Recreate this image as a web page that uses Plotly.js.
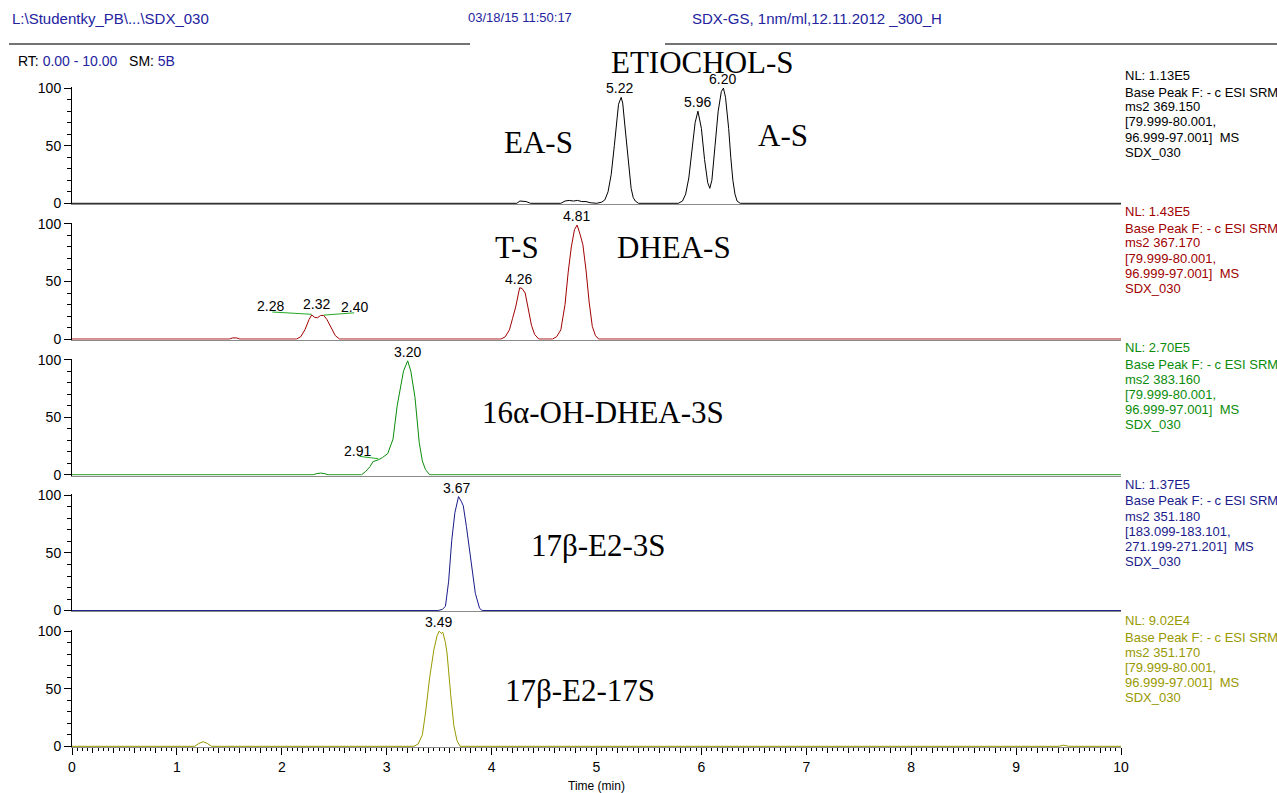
<!DOCTYPE html>
<html><head><meta charset="utf-8">
<script src="https://cdn.plot.ly/plotly-3.0.1.min.js"></script>
<style>html,body{margin:0;padding:0;background:#fff}#chart{width:1277px;height:793px}</style>
</head><body><div id="chart"></div>
<script>
// ---------- data (time in min, relative abundance in %) ----------
const timeEtiochol = [0, 4.24, 4.27, 4.30, 4.33, 4.37, 4.66, 4.70, 4.74, 4.78, 4.82, 4.86, 4.90, 4.94, 5.00, 5.05, 5.08, 5.11, 5.14, 5.17, 5.19, 5.21, 5.235, 5.25, 5.27, 5.29, 5.31, 5.33, 5.35, 5.37, 5.40, 5.78, 5.82, 5.85, 5.88, 5.91, 5.94, 5.967, 6.00, 6.03, 6.06, 6.08, 6.10, 6.13, 6.16, 6.19, 6.21, 6.23, 6.26, 6.28, 6.30, 6.32, 6.34, 6.37, 10];
const intEtiochol  = [0, 0, 2, 2, 1.5, 0, 0, 2, 2.5, 2, 2.5, 1.5, 1.5, 0.5, 0, 1, 3, 10, 25, 50, 70, 86, 92, 87, 68, 48, 28, 13, 5, 2, 0, 0, 2, 8, 22, 45, 70, 80, 65, 38, 18, 13, 20, 50, 80, 97, 100, 92, 65, 40, 20, 8, 2, 0, 0];

const timeDhea = [0, 1.50, 1.53, 1.57, 1.60, 2.14, 2.18, 2.22, 2.26, 2.285, 2.31, 2.34, 2.37, 2.40, 2.43, 2.47, 2.51, 2.55, 4.09, 4.13, 4.17, 4.20, 4.23, 4.267, 4.29, 4.32, 4.35, 4.38, 4.41, 4.45, 4.58, 4.62, 4.66, 4.70, 4.73, 4.76, 4.79, 4.815, 4.84, 4.87, 4.90, 4.93, 4.96, 4.99, 5.02, 10];
const intDhea  = [0, 0, 1, 1, 0, 0, 2, 8, 17, 21, 19, 18.5, 20.5, 20.5, 17, 10, 3, 0, 0, 2, 8, 18, 28, 44.5, 44, 40, 26, 12, 4, 0, 0, 2, 8, 30, 58, 80, 95, 99, 92, 82, 60, 32, 11, 3, 0, 0];

const timeOhDhea = [0, 2.30, 2.33, 2.37, 2.41, 2.44, 2.76, 2.80, 2.84, 2.87, 2.92, 2.96, 3.01, 3.06, 3.10, 3.13, 3.16, 3.20, 3.23, 3.27, 3.29, 3.31, 3.34, 3.37, 3.41, 10];
const intOhDhea  = [0, 0, 1, 1.5, 1, 0, 0, 3, 7, 11.5, 13, 15, 18.5, 31, 60, 76, 90, 99, 90, 67, 48, 28, 12, 4.5, 0, 0];

const timeE2_3S = [0, 3.49, 3.53, 3.56, 3.59, 3.62, 3.65, 3.685, 3.71, 3.73, 3.76, 3.80, 3.845, 3.885, 3.91, 10];
const intE2_3S  = [0, 0, 1, 3.7, 25, 61, 85, 99, 95, 91, 73, 47, 15, 2, 0, 0];

const timeE2_17S = [0, 1.17, 1.21, 1.25, 1.29, 1.33, 3.26, 3.30, 3.34, 3.37, 3.41, 3.45, 3.48, 3.50, 3.52, 3.535, 3.56, 3.575, 3.61, 3.64, 3.67, 3.70, 9.41, 9.45, 9.50, 10];
const intE2_17S  = [0, 0, 2.5, 4, 2.5, 0, 0, 2, 10, 29, 60, 84, 96, 100, 98, 99, 90, 81, 45, 18, 5, 0, 0, 1, 0, 0];

// peak labels (retention time, apex height)
const peakTimesEtiochol = [5.22, 5.96, 6.20];  const peakHeightsEtiochol = [92, 80, 100];
const peakTimesDhea     = [4.26, 4.81];        const peakHeightsDhea     = [44.5, 99];
const peakTimesOhDhea   = [3.20];              const peakHeightsOhDhea   = [99];
const peakTimesE2_3S    = [3.67];              const peakHeightsE2_3S    = [99];
const peakTimesE2_17S   = [3.49];              const peakHeightsE2_17S   = [100];

// side-labelled small peaks with leader lines
const clusterLabels = ['2.28', '2.32', '2.40'];
const shoulderLabel = ['2.91'];

// right-hand info blocks
const infoEtiochol = ['NL: 1.13E5', 'Base Peak F: - c ESI SRM', 'ms2 369.150', '[79.999-80.001,', '96.999-97.001]&nbsp; MS', 'SDX_030'];
const infoDhea     = ['NL: 1.43E5', 'Base Peak F: - c ESI SRM', 'ms2 367.170', '[79.999-80.001,', '96.999-97.001]&nbsp; MS', 'SDX_030'];
const infoOhDhea   = ['NL: 2.70E5', 'Base Peak F: - c ESI SRM', 'ms2 383.160', '[79.999-80.001,', '96.999-97.001]&nbsp; MS', 'SDX_030'];
const infoE2_3S    = ['NL: 1.37E5', 'Base Peak F: - c ESI SRM', 'ms2 351.180', '[183.099-183.101,', '271.199-271.201]&nbsp; MS', 'SDX_030'];
const infoE2_17S   = ['NL: 9.02E4', 'Base Peak F: - c ESI SRM', 'ms2 351.170', '[79.999-80.001,', '96.999-97.001]&nbsp; MS', 'SDX_030'];

const yTickVals = [0, 50, 100];
const yTickText = ['0', '50', '100'];
const xTickVals = [0, 1, 2, 3, 4, 5, 6, 7, 8, 9, 10];
const xTickText = ['0', '1', '2', '3', '4', '5', '6', '7', '8', '9', '10'];
const xMidTickVals = [0.2,0.4,0.6,0.8,1.2,1.4,1.6,1.8,2.2,2.4,2.6,2.8,3.2,3.4,3.6,3.8,4.2,4.4,4.6,4.8,5.2,5.4,5.6,5.8,6.2,6.4,6.6,6.8,7.2,7.4,7.6,7.8,8.2,8.4,8.6,8.8,9.2,9.4,9.6,9.8];

// ---------- layout ----------
const W = 1277, H = 793, ML = 72, MR = 156, MT = 87, MB = 46;
const plotW = W - ML - MR, plotH = H - MT - MB;
const px = x => (x - ML) / plotW;
const py = y => (H - MB - y) / plotH;

const FONT = 'Liberation Sans, Arial, sans-serif';
const SERIF = 'Liberation Serif, Times New Roman, serif';

const panels = [
  {t: timeEtiochol, v: intEtiochol, color: '#000000', pt: peakTimesEtiochol, ph: peakHeightsEtiochol, info: infoEtiochol, nl: 75},
  {t: timeDhea, v: intDhea, color: '#A00000', pt: peakTimesDhea, ph: peakHeightsDhea, info: infoDhea, nl: 211},
  {t: timeOhDhea, v: intOhDhea, color: '#0A8C0A', pt: peakTimesOhDhea, ph: peakHeightsOhDhea, info: infoOhDhea, nl: 347},
  {t: timeE2_3S, v: intE2_3S, color: '#1A1A8C', pt: peakTimesE2_3S, ph: peakHeightsE2_3S, info: infoE2_3S, nl: 484},
  {t: timeE2_17S, v: intE2_17S, color: '#999900', pt: peakTimesE2_17S, ph: peakHeightsE2_17S, info: infoE2_17S, nl: 620}
];

const layout = {
  width: W, height: H,
  margin: {l: ML, r: MR, t: MT, b: MB, pad: 0},
  paper_bgcolor: '#fff', plot_bgcolor: 'rgba(0,0,0,0)',
  showlegend: false,
  font: {family: FONT, size: 13, color: '#000'},
  annotations: [], shapes: []
};
const traces = [];

panels.forEach((p, i) => {
  const n = 5 - i;
  const xn = n === 1 ? 'x' : 'x' + n;
  const yn = n === 1 ? 'y' : 'y' + n;
  const xk = n === 1 ? 'xaxis' : 'xaxis' + n;
  const yk = n === 1 ? 'yaxis' : 'yaxis' + n;
  const bottom = 204 + 135.75 * i;
  const top = bottom - 117;
  layout[xk] = {
    range: [0, 10], anchor: yn, showline: true, linecolor: '#8a8a8a', linewidth: 1,
    showgrid: false, zeroline: false, fixedrange: true,
    ticks: n === 1 ? 'outside' : '', showticklabels: n === 1
  };
  layout[yk] = {
    domain: [py(bottom), py(top)], range: [-0.6, 101], anchor: xn,
    showline: true, linecolor: '#000', linewidth: 1, showgrid: false, zeroline: false, fixedrange: true,
    ticks: 'outside', tickvals: yTickVals, ticktext: yTickText, ticklen: 7, tickwidth: 1, tickcolor: '#000',
    minor: {ticks: 'outside', dtick: 10, tick0: 0, ticklen: 4, tickwidth: 1, tickcolor: '#000'},
    tickfont: {family: FONT, size: 14, color: '#000'}
  };
  traces.push({
    x: p.t, y: p.v, xaxis: xn, yaxis: yn, type: 'scatter', mode: 'lines',
    line: {color: p.color, width: 1}, hoverinfo: 'skip', cliponaxis: false
  });
  // peak labels
  p.pt.forEach((t, j) => {
    layout.annotations.push({
      x: t, y: p.ph[j], xref: xn, yref: yn, text: t.toFixed(2), showarrow: false,
      yanchor: 'bottom', xanchor: 'center', yshift: -1,
      font: {family: FONT, size: 14, color: '#000'}
    });
  });
  // info block
  p.info.forEach((line, k) => {
    const yy = k === 0 ? p.nl : p.nl + 17 + 15 * (k - 1);
    layout.annotations.push({
      x: px(1123), y: py(yy), xref: 'paper', yref: 'paper', text: line, showarrow: false,
      xanchor: 'left', yanchor: 'middle', font: {family: FONT, size: 13, color: p.color}
    });
  });
});

// bottom axis details
Object.assign(layout.xaxis, {
  tickvals: xTickVals, ticktext: xTickText, ticklen: 7, tickwidth: 1, tickcolor: '#000',
  minor: {ticks: 'outside', dtick: 0.05, tick0: 0, ticklen: 3, tickwidth: 1, tickcolor: '#000'},
  tickfont: {family: FONT, size: 14, color: '#000'},
  title: {text: 'Time (min)', font: {family: FONT, size: 12, color: '#000'}, standoff: 7}
});
layout.xaxis6 = {
  overlaying: 'x', anchor: 'y', range: [0, 10], side: 'bottom', showline: false, showgrid: false,
  zeroline: false, ticks: 'outside', tickvals: xMidTickVals, ticklen: 5, tickwidth: 1, tickcolor: '#000',
  showticklabels: false, fixedrange: true
};
traces.push({x: [0], y: [0], xaxis: 'x6', yaxis: 'y', mode: 'markers', marker: {opacity: 0}, hoverinfo: 'skip'});

// labels for shoulder / cluster peaks with green leader lines
const green = '#22AA22';
const lblFont = {family: FONT, size: 14, color: '#000'};
layout.annotations.push(
  {x: 1.89, y: 29, xref: 'x4', yref: 'y4', text: clusterLabels[0], showarrow: false, font: lblFont},
  {x: 2.33, y: 30.5, xref: 'x4', yref: 'y4', text: clusterLabels[1], showarrow: false, font: lblFont},
  {x: 2.69, y: 28, xref: 'x4', yref: 'y4', text: clusterLabels[2], showarrow: false, font: lblFont},
  {x: 2.72, y: 21, xref: 'x3', yref: 'y3', text: shoulderLabel[0], showarrow: false, font: lblFont}
);
layout.shapes.push(
  {type: 'line', xref: 'x4', yref: 'y4', x0: 1.91, y0: 23.5, x1: 2.285, y1: 21.5, line: {color: green, width: 1}},
  {type: 'line', xref: 'x4', yref: 'y4', x0: 2.40, y0: 20.8, x1: 2.69, y1: 22.8, line: {color: green, width: 1}},
  {type: 'line', xref: 'x3', yref: 'y3', x0: 2.74, y0: 16, x1: 2.92, y1: 14, line: {color: green, width: 1}}
);

// compound names
const names = [
  ['ETIOCHOL-S', 702, 62], ['EA-S', 538, 142], ['A-S', 783, 135], ['T-S', 517, 247], ['DHEA-S', 674, 248],
  ['16α-OH-DHEA-3S', 603, 412], ['17β-E2-3S', 598, 545], ['17β-E2-17S', 580, 690]
];
names.forEach(([txt, x, y]) => layout.annotations.push({
  x: px(x), y: py(y), xref: 'paper', yref: 'paper', text: txt, showarrow: false,
  xanchor: 'center', yanchor: 'middle', font: {family: SERIF, size: 31, color: '#000'}
}));

// header
const hdrBlue = '#2323A0';
layout.annotations.push(
  {x: px(10), y: py(18), xref: 'paper', yref: 'paper', text: 'L:\\Studentky_PB\\...\\SDX_030', showarrow: false, xanchor: 'left', yanchor: 'middle', font: {family: FONT, size: 15, color: hdrBlue}},
  {x: px(520), y: py(17), xref: 'paper', yref: 'paper', text: '03/18/15 11:50:17', showarrow: false, xanchor: 'center', yanchor: 'middle', font: {family: FONT, size: 13, color: hdrBlue}},
  {x: px(690), y: py(18), xref: 'paper', yref: 'paper', text: 'SDX-GS, 1nm/ml,12.11.2012 _300_H', showarrow: false, xanchor: 'left', yanchor: 'middle', font: {family: FONT, size: 15, color: hdrBlue}},
  {x: px(16), y: py(61), xref: 'paper', yref: 'paper', showarrow: false, xanchor: 'left', yanchor: 'middle',
   text: 'RT: <span style="color:' + hdrBlue + '">0.00 - 10.00</span>&nbsp;&nbsp; SM: <span style="color:' + hdrBlue + '">5B</span>',
   font: {family: FONT, size: 14, color: '#000'}}
);
layout.shapes.push(
  {type: 'line', xref: 'paper', yref: 'paper', x0: px(9), x1: px(470), y0: py(44), y1: py(44), line: {color: '#444', width: 1.5}},
  {type: 'line', xref: 'paper', yref: 'paper', x0: px(665), x1: px(1277), y0: py(44), y1: py(44), line: {color: '#444', width: 1.5}}
);

Plotly.newPlot('chart', traces, layout, {staticPlot: true, displayModeBar: false});
</script>
</body></html>
